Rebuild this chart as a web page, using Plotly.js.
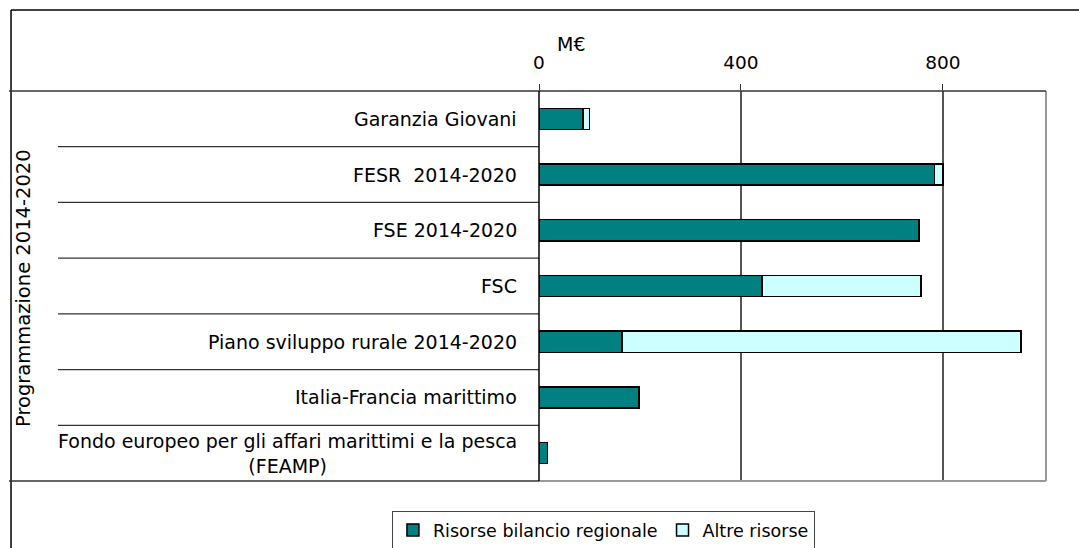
<!DOCTYPE html>
<html>
<head>
<meta charset="utf-8">
<script src="https://cdn.plot.ly/plotly-3.0.1.min.js"></script>
<style>html,body{margin:0;padding:0;background:#fff;}#chart{width:1079px;height:548px;}</style>
</head>
<body>
<div id="chart"></div>
<script>
const categories = ["Garanzia Giovani", "FESR  2014-2020", "FSE 2014-2020", "FSC",
  "Piano sviluppo rurale 2014-2020", "Italia-Francia marittimo",
  "Fondo europeo per gli affari marittimi e la pesca<br>(FEAMP)"];
const risorseRegionali = [87, 783, 752, 442, 164, 198, 17];
const altreRisorse = [13, 17, 0, 314, 790, 0, 0];
const seriesNames = ["Risorse bilancio regionale", "Altre risorse"];
const tickVals = [0, 400, 800];
const unitLabel = "M€";
const groupLabel = "Programmazione 2014-2020";

const W = 1079, H = 548;
const L = 538.5, R = 1046, T = 91, B = 481;
const pw = R - L, ph = B - T;
const px = v => (v - L) / pw;          // pixel x -> paper x
const py = v => (B - v) / ph;          // pixel y -> paper y
const FONT = "DejaVu Sans, Verdana, sans-serif";

const traces = [
  {type: "bar", orientation: "h", name: seriesNames[0], y: categories, x: risorseRegionali,
   marker: {color: "#008080", line: {color: "#000", width: 1.5}}, width: 0.38},
  {type: "bar", orientation: "h", name: seriesNames[1], y: categories, x: altreRisorse,
   marker: {color: "#CCFFFF", line: {color: "#000", width: 1.5}}, width: 0.38}
];

const annotations = categories.map(c => ({
  xref: "paper", yref: "y", x: px(518), y: c, xanchor: "right", yanchor: "middle",
  text: c, showarrow: false, align: "center", font: {family: FONT, size: 19, color: "#000"}
}));
annotations.push({xref: "paper", yref: "paper", x: px(22), y: py(288), text: groupLabel,
  textangle: -90, showarrow: false, xanchor: "center", yanchor: "middle",
  font: {family: FONT, size: 19.5, color: "#000"}});
annotations.push({xref: "paper", yref: "paper", x: px(571), y: py(44), text: unitLabel,
  showarrow: false, xanchor: "center", yanchor: "middle",
  font: {family: FONT, size: 19, color: "#000"}});

const shapes = [];
const line = (x0, y0, x1, y1, color, w) => shapes.push({type: "line", xref: "paper", yref: "paper",
  x0: px(x0), y0: py(y0), x1: px(x1), y1: py(y1), line: {color: color, width: w}, layer: "above"});
// outer frame
line(10, 10, W + 5, 10, "#000", 1.5);
line(10, 10, 10, H + 5, "#000", 1.5);
line(8, T, L, T, "#333", 1.5);
line(8, B, L, B, "#333", 1.5);
// category separators
for (let i = 1; i < categories.length; i++) {
  const yy = T + ph * i / categories.length;
  line(57, yy, L, yy, "#333", 1.2);
}
// plot frame
line(R, T, R, B, "#999", 2);
line(L, B, R, B, "#999", 2);
line(L, T, R, T, "#333", 1.5);
line(L, T, L, B, "#000", 1.5);

const layout = {
  width: W, height: H,
  margin: {l: L, r: W - R, t: T, b: H - B, pad: 0, autoexpand: false},
  paper_bgcolor: "#fff", plot_bgcolor: "#fff",
  barmode: "stack",
  showlegend: true,
  legend: {orientation: "h", x: px(603), xanchor: "center", y: py(530), yanchor: "middle",
    bordercolor: "#444", borderwidth: 1, font: {family: FONT, size: 17.5, color: "#000"},
    traceorder: "normal", itemwidth: 30, tracegroupgap: 0},
  xaxis: {side: "top", range: [0, 1004], tickvals: tickVals, ticktext: tickVals.map(String),
    ticks: "outside", ticklen: 6, tickcolor: "#333", showgrid: true, gridcolor: "#555", gridwidth: 1.2,
    zeroline: false, showline: false, tickfont: {family: FONT, size: 18.5, color: "#000"},
    ticklabelstandoff: 8, fixedrange: true},
  yaxis: {type: "category", categoryorder: "array", categoryarray: categories, autorange: "reversed",
    showticklabels: false, ticks: "", showgrid: false, zeroline: false, showline: false, fixedrange: true},
  annotations: annotations,
  shapes: shapes
};

Plotly.newPlot("chart", traces, layout, {displayModeBar: false, staticPlot: true});
</script>
</body>
</html>
